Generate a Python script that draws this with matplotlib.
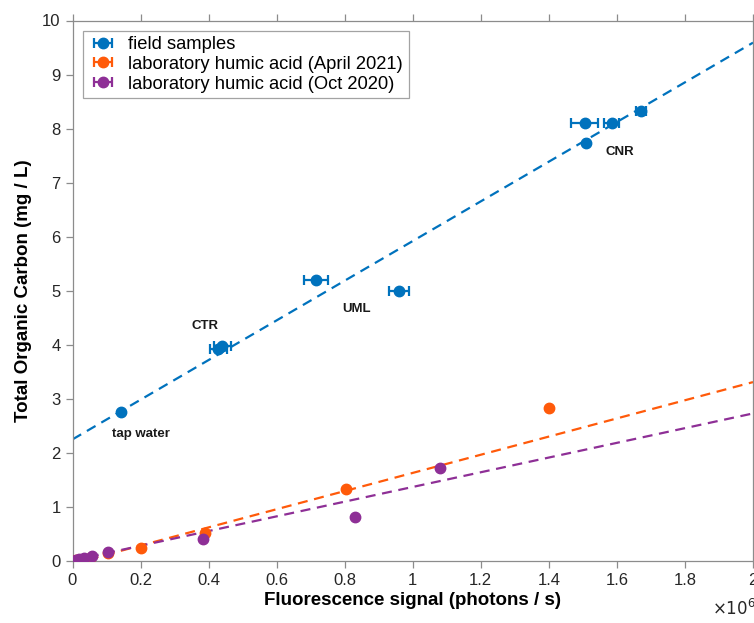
import numpy as np
import matplotlib.pyplot as plt
from matplotlib.ticker import FuncFormatter

plt.rcParams['font.family'] = ['Liberation Sans', 'DejaVu Sans']

# field samples (signal in 1e6 photons/s, TOC in mg/L)
field_x = [0.144, 0.428, 0.440, 0.715, 0.960, 1.505, 1.510, 1.585, 1.670]
field_y = [2.75, 3.93, 3.97, 5.19, 5.00, 8.11, 7.74, 8.11, 8.33]
field_xerr = [0.0, 0.025, 0.025, 0.035, 0.030, 0.040, 0.005, 0.022, 0.015]

# laboratory humic acid, April 2021
apr_x = [0.0, 0.010, 0.020, 0.050, 0.105, 0.200, 0.390, 0.805, 1.400]
apr_y = [0.0, 0.01, 0.02, 0.06, 0.14, 0.24, 0.52, 1.33, 2.83]

# laboratory humic acid, Oct 2020
oct_x = [0.0, 0.010, 0.020, 0.035, 0.056, 0.105, 0.385, 0.830, 1.080]
oct_y = [0.0, 0.02, 0.04, 0.06, 0.09, 0.16, 0.40, 0.81, 1.72]

# linear fits (slope, intercept)
fit_field = (3.67, 2.25)
fit_apr = (1.68, -0.05)
fit_oct = (1.36, 0.01)

labels = ['field samples', 'laboratory humic acid (April 2021)',
          'laboratory humic acid (Oct 2020)']
blue, orange, purple = '#0072BD', '#FF5A0A', '#8E2F96'

fig = plt.figure(figsize=(7.54, 6.23), dpi=100)
ax = fig.add_axes([72.5 / 754, 62 / 623, 680.5 / 754, 540.5 / 623])

xs = np.array([0, 2.0])
for (m, b), c in [(fit_field, blue), (fit_apr, orange), (fit_oct, purple)]:
    ax.plot(xs, m * xs + b, color=c, lw=1.6, ls=(0, (4.5, 3)), zorder=2)

ekw = dict(fmt='o', ms=7.5, elinewidth=1.6, capsize=3.5, capthick=1.6, zorder=3)
ax.errorbar(field_x, field_y, xerr=field_xerr, color=blue, label=labels[0], **ekw)
ax.errorbar(apr_x, apr_y, xerr=np.zeros(len(apr_x)), color=orange, label=labels[1], **ekw)
ax.errorbar(oct_x, oct_y, xerr=np.zeros(len(oct_x)), color=purple, label=labels[2], **ekw)

# site labels
for txt, x, y in [('CNR', 1.61, 7.56), ('CTR', 0.39, 4.34),
                  ('UML', 0.835, 4.66), ('tap water', 0.20, 2.35)]:
    ax.text(x, y, txt, fontsize=9.5, fontweight='bold', ha='center', va='center',
            color='#1a1a1a')

ax.set_xlim(0, 2)
ax.set_ylim(0, 10)
ax.set_xticks(np.arange(0, 2.01, 0.2))
ax.set_yticks(range(0, 11))
ax.xaxis.set_major_formatter(FuncFormatter(lambda v, p: '%g' % round(v, 1)))

for s in ax.spines.values():
    s.set_color('#8c8c8c')
    s.set_linewidth(0.9)
ax.tick_params(direction='out', length=5, width=0.9, color='#8c8c8c',
               labelsize=12, labelcolor='#262626', top=True, right=False)

ax.set_xlabel('Fluorescence signal (photons / s)', fontsize=13.5, fontweight='bold',
              labelpad=3)
ax.set_ylabel('Total Organic Carbon (mg / L)', fontsize=13.5, fontweight='bold',
              labelpad=7)
fig.text(712 / 754, 1 - 608 / 623, r'$\times 10^6$', fontsize=12, color='#262626',
         va='center', ha='left')

leg = ax.legend(loc='upper left', fontsize=13.2, frameon=True, fancybox=False,
                edgecolor='#8c8c8c', borderpad=0.3, labelspacing=0.15,
                handlelength=1.6, handletextpad=0.6, borderaxespad=0.55)
leg.get_frame().set_linewidth(0.9)

fig.savefig('out.png', dpi=100)
